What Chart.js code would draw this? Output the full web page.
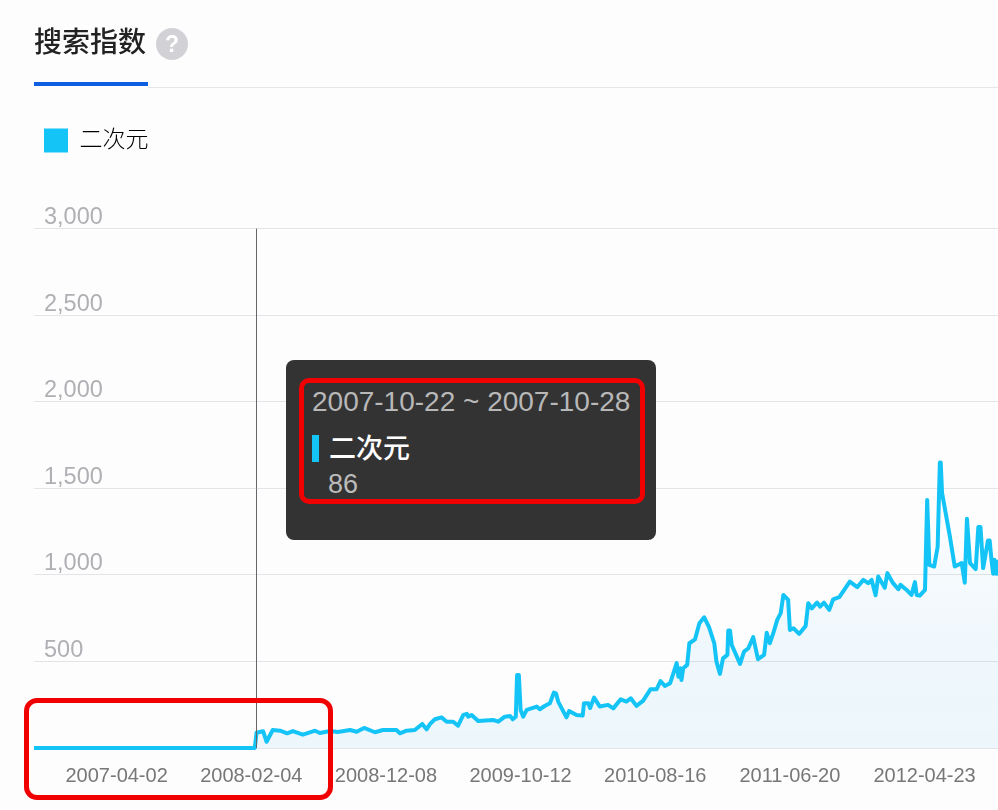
<!DOCTYPE html>
<html lang="zh">
<head>
<meta charset="utf-8">
<title>搜索指数</title>
<script src="https://cdn.jsdelivr.net/npm/chart.js@4/dist/chart.umd.min.js"></script>
<style>
  html, body { margin: 0; padding: 0; background: #fdfdfe; }
  body { width: 998px; height: 810px; overflow: hidden; position: relative; font-family: "Liberation Sans", "Noto Sans CJK SC", sans-serif; }
  canvas { position: absolute; left: 0; top: 0; }
  .help { position: absolute; left: 156px; top: 28px; width: 32px; height: 32px; border-radius: 50%; background: #d2d2d6; color: #fff; font: bold 23px/32px "Liberation Sans", sans-serif; text-align: center; }
  .tab-line { position: absolute; left: 148px; top: 87px; width: 850px; height: 1px; background: #e6e6ea; }
  .tab-active { position: absolute; left: 34px; top: 82px; width: 114px; height: 4px; background: #0f5fe3; }
  .tip { position: absolute; left: 286px; top: 360px; width: 370px; height: 180px; background: #333; border-radius: 8px; }
  .tip div { position: absolute; white-space: nowrap; }
  .tip-date { left: 26px; top: 26px; font-size: 28px; line-height: 32px; color: #b8b8b8; }
  .tip-bar { left: 26px; top: 75px; width: 7px; height: 27px; background: #14c4f6; }
  .tip-name { left: 43px; top: 72px; font-size: 27px; line-height: 34px; font-weight: 500; color: #fff; }
  .tip-value { left: 42px; top: 108px; font-size: 27px; line-height: 32px; color: #bbb; }
  .mark { position: absolute; box-sizing: border-box; border: 5px solid #f00000; }
  .mark-tip { left: 299px; top: 378px; width: 346px; height: 126px; border-radius: 10px; }
  .mark-axis { left: 24px; top: 698px; width: 309px; height: 102px; border-radius: 13px; }
</style>
</head>
<body>
<canvas id="indexChart" width="998" height="810"></canvas>
<div class="tab-line"></div>
<div class="tab-active"></div>
<div class="help">?</div>
<div class="tip">
  <div class="tip-date" id="tipDate"></div>
  <div class="tip-bar"></div>
  <div class="tip-name" id="tipName"></div>
  <div class="tip-value" id="tipValue"></div>
</div>
<div class="mark mark-tip"></div>
<div class="mark mark-axis"></div>
<script>
const TITLE = '搜索指数';
const SERIES_NAME = '二次元';
const TIP_DATE = '2007-10-22 ~ 2007-10-28';
const TIP_VALUE = '86';
const LINE_COLOR = '#14c4f6';
const FONT_FAMILY = '"Liberation Sans", "Noto Sans CJK SC", sans-serif';

// x is days since 2006-09-25
const trendDays = [
  0, 505, 509, 524, 532, 546, 563, 579, 592, 615, 643, 654, 677, 695, 723, 738, 755, 780, 798, 829,
  837, 852, 871, 888, 898, 906, 917, 932, 944, 959, 970, 982, 990, 993, 1001, 1016, 1050, 1062, 1077, 1089,
  1095, 1102, 1105, 1109, 1113, 1119, 1127, 1150, 1157, 1169, 1180, 1189, 1194, 1199, 1211, 1218, 1224, 1241, 1255, 1258,
  1268, 1272, 1281, 1294, 1313, 1325, 1342, 1355, 1365, 1378, 1393, 1410, 1424, 1433, 1443, 1455, 1470, 1474, 1478, 1481,
  1485, 1494, 1499, 1512, 1522, 1533, 1544, 1556, 1561, 1569, 1576, 1586, 1588, 1592, 1596, 1615, 1624, 1634, 1645, 1656,
  1670, 1676, 1683, 1691, 1700, 1708, 1714, 1725, 1729, 1737, 1750, 1765, 1771, 1779, 1791, 1798, 1807, 1819, 1828, 1842,
  1866, 1883, 1897, 1908, 1916, 1925, 1931, 1946, 1952, 1965, 1977, 1982, 1996, 2007, 2015, 2019, 2026, 2038, 2043, 2048,
  2059, 2067, 2072, 2074, 2077, 2095, 2106, 2122, 2129, 2134, 2141, 2154, 2160, 2165, 2171, 2182, 2186, 2190, 2194, 2197,
  2201, 2205
];
const trendValues = [
  0, 0, 88, 97, 36, 104, 100, 85, 98, 77, 100, 87, 98, 92, 104, 94, 116, 91, 104, 104,
  85, 100, 104, 139, 108, 139, 166, 177, 152, 152, 129, 191, 197, 181, 191, 156, 162, 152, 181, 185,
  166, 181, 422, 422, 220, 181, 220, 239, 224, 244, 258, 320, 316, 268, 210, 177, 214, 191, 187, 258,
  258, 231, 291, 240, 249, 229, 281, 268, 287, 243, 272, 339, 339, 387, 358, 374, 490, 412, 461, 393,
  461, 480, 605, 628, 721, 755, 698, 605, 499, 428, 518, 538, 678, 678, 595, 486, 557, 576, 640, 513,
  538, 666, 605, 663, 740, 779, 884, 855, 682, 692, 659, 705, 836, 807, 840, 817, 840, 798, 859, 871,
  961, 929, 971, 952, 971, 882, 990, 925, 1010, 952, 917, 942, 913, 884, 958, 884, 880, 913, 1433, 1058,
  1048, 1164, 1649, 1649, 1474, 1221, 1048, 1068, 955, 1324, 1068, 1033, 1276, 1276, 1039, 1198, 1198, 1087, 1006, 1087,
  1006, 1087
];
const xTickDays = [189, 497, 805, 1113, 1421, 1729, 2037];
const xTickLabels = ['2007-04-02', '2008-02-04', '2008-12-08', '2009-10-12', '2010-08-16', '2011-06-20', '2012-04-23'];
const yTickValues = [0, 500, 1000, 1500, 2000, 2500, 3000];
const yTickLabels = ['', '500', '1,000', '1,500', '2,000', '2,500', '3,000'];
const xMaxDay = 2205;
const hoverDay = 509;

document.getElementById('tipDate').textContent = TIP_DATE;
document.getElementById('tipName').textContent = SERIES_NAME;
document.getElementById('tipValue').textContent = TIP_VALUE;

function fadeFill(context) {
  const area = context.chart.chartArea;
  if (!area) return 'rgba(20, 160, 220, 0.07)';
  const grad = context.chart.ctx.createLinearGradient(0, area.top + 260, 0, area.bottom);
  grad.addColorStop(0, 'rgba(20, 160, 220, 0)');
  grad.addColorStop(0.6, 'rgba(20, 160, 220, 0.06)');
  grad.addColorStop(1, 'rgba(20, 160, 220, 0.07)');
  return grad;
}

// legend has no bottom margin option, stretch its box so the plot starts at the right height
const legendGap = {
  id: 'legendGap',
  beforeInit(chart) {
    const fit = chart.legend.fit;
    chart.legend.fit = function () {
      fit.call(this);
      this.height += 66;
    };
  }
};

const hoverLine = {
  id: 'hoverLine',
  afterDatasetsDraw(chart) {
    const { ctx, chartArea, scales } = chart;
    const x = Math.round(scales.x.getPixelForValue(hoverDay)) - 0.5;
    ctx.save();
    ctx.strokeStyle = '#66666a';
    ctx.lineWidth = 1;
    ctx.beginPath();
    ctx.moveTo(x, chartArea.top);
    ctx.lineTo(x, chartArea.bottom);
    ctx.stroke();
    ctx.restore();
  }
};

new Chart(document.getElementById('indexChart').getContext('2d'), {
  type: 'line',
  data: {
    datasets: [{
      label: SERIES_NAME,
      data: trendDays.map((d, i) => ({ x: d, y: trendValues[i] })),
      borderColor: LINE_COLOR,
      borderWidth: 4,
      borderJoinStyle: 'round',
      backgroundColor: fadeFill,
      fill: 'origin',
      clip: false,
      pointRadius: 0,
      tension: 0
    }]
  },
  options: {
    responsive: false,
    animation: false,
    layout: { padding: { left: 34, right: 0, top: 0, bottom: 0 } },
    plugins: {
      tooltip: { enabled: false },
      title: {
        display: true,
        text: TITLE,
        align: 'start',
        color: '#222',
        font: { family: FONT_FAMILY, size: 28, weight: '500' },
        padding: { top: 27, bottom: 58 }
      },
      legend: {
        position: 'top',
        align: 'start',
        labels: {
          boxWidth: 24,
          boxHeight: 24,
          padding: 10,
          color: '#666',
          font: { family: FONT_FAMILY, size: 23, weight: '300' },
          generateLabels(chart) {
            return [{ text: SERIES_NAME, fillStyle: LINE_COLOR, strokeStyle: LINE_COLOR, lineWidth: 0, datasetIndex: 0 }];
          }
        }
      }
    },
    scales: {
      x: {
        type: 'linear',
        min: 0,
        max: xMaxDay,
        grid: { display: false },
        border: { display: false },
        afterBuildTicks(axis) { axis.ticks = xTickDays.map(v => ({ value: v })); },
        afterFit(axis) { axis.height = 62; axis.paddingLeft = 0; axis.paddingRight = 0; },
        ticks: {
          autoSkip: false,
          maxRotation: 0,
          padding: 8,
          color: '#777',
          font: { family: FONT_FAMILY, size: 20 },
          callback: (value) => xTickLabels[xTickDays.indexOf(value)]
        }
      },
      y: {
        min: 0,
        max: 3000,
        grid: { color: '#e4e4e8', drawTicks: false },
        border: { display: false },
        afterBuildTicks(axis) { axis.ticks = yTickValues.map(v => ({ value: v })); },
        afterFit(axis) { axis.width = 0; axis.paddingTop = 0; axis.paddingBottom = 0; },
        ticks: {
          mirror: true,
          padding: 10,
          labelOffset: -11,
          color: '#b0b0b4',
          font: { family: FONT_FAMILY, size: 23.5 },
          callback: (value) => yTickLabels[yTickValues.indexOf(value)]
        }
      }
    }
  },
  plugins: [legendGap, hoverLine]
});
</script>
</body>
</html>
